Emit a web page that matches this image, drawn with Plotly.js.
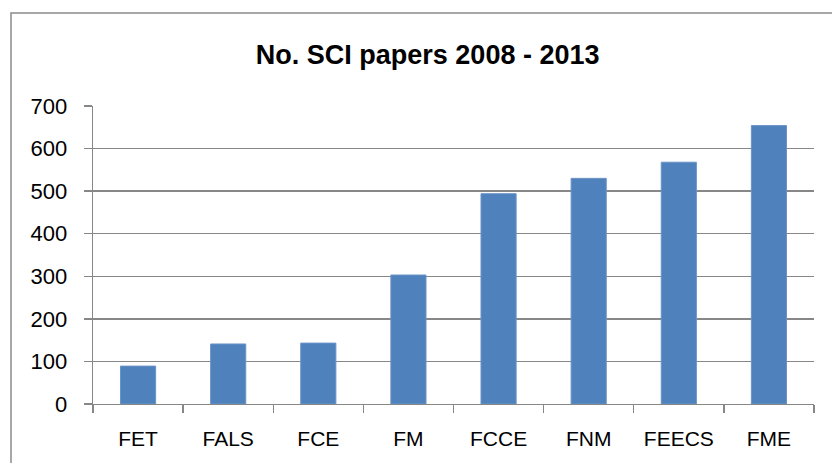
<!DOCTYPE html>
<html>
<head>
<meta charset="utf-8">
<script src="https://cdn.plot.ly/plotly-3.0.1.min.js"></script>
<style>html,body{margin:0;padding:0;background:#fff;}#chart{width:832px;height:463px;}</style>
</head>
<body>
<div id="chart"></div>
<script>
const categories = ["FET", "FALS", "FCE", "FM", "FCCE", "FNM", "FEECS", "FME"];
const papers = [89, 141, 143, 303, 494, 530, 568, 654];
const yTicks = [0, 100, 200, 300, 400, 500, 600, 700];

const FONT = "Liberation Sans, Arial, sans-serif";
const GRID = "#878787";

const data = [{
  type: "bar",
  x: categories,
  y: papers,
  marker: {color: "#4F81BD", line: {color: "#6b94c6", width: 1}},
  hoverinfo: "x+y"
}];

const layout = {
  width: 832,
  height: 463,
  margin: {l: 93, r: 18, t: 106, b: 59},
  paper_bgcolor: "#fff",
  plot_bgcolor: "#fff",
  showlegend: false,
  bargap: 0.61,
  font: {family: FONT, size: 20, color: "#000"},
  title: {
    text: "<b>No. SCI papers 2008 - 2013</b>",
    font: {family: FONT, size: 27, color: "#000"},
    xref: "container", x: 0.514, xanchor: "center",
    yref: "container", y: 1 - 55 / 463, yanchor: "middle"
  },
  xaxis: {
    type: "category",
    tickson: "boundaries",
    ticks: "outside",
    ticklen: 8,
    tickwidth: 1.3,
    tickcolor: GRID,
    showline: true,
    linecolor: GRID,
    linewidth: 1.3,
    showgrid: false,
    ticklabelstandoff: 15,
    tickfont: {family: FONT, size: 21, color: "#000"},
    fixedrange: true
  },
  yaxis: {
    range: [0, 700],
    tickmode: "array",
    tickvals: yTicks,
    ticktext: yTicks.map(String),
    ticks: "outside",
    ticklen: 8,
    tickwidth: 1.3,
    tickcolor: GRID,
    showline: true,
    linecolor: GRID,
    linewidth: 1.3,
    showgrid: true,
    gridcolor: GRID,
    gridwidth: 1.3,
    zeroline: false,
    ticklabelstandoff: 12,
    tickfont: {family: FONT, size: 22, color: "#000"},
    fixedrange: true
  },
  shapes: [{
    type: "rect",
    xref: "paper", yref: "paper",
    x0: (11 - 93) / 721, x1: 1.2,
    y0: -0.4, y1: (404 - 13) / 298,
    line: {color: "#8a8a8a", width: 1.5},
    fillcolor: "rgba(0,0,0,0)",
    layer: "below"
  }]
};

Plotly.newPlot("chart", data, layout, {displayModeBar: false, staticPlot: true});
</script>
</body>
</html>
